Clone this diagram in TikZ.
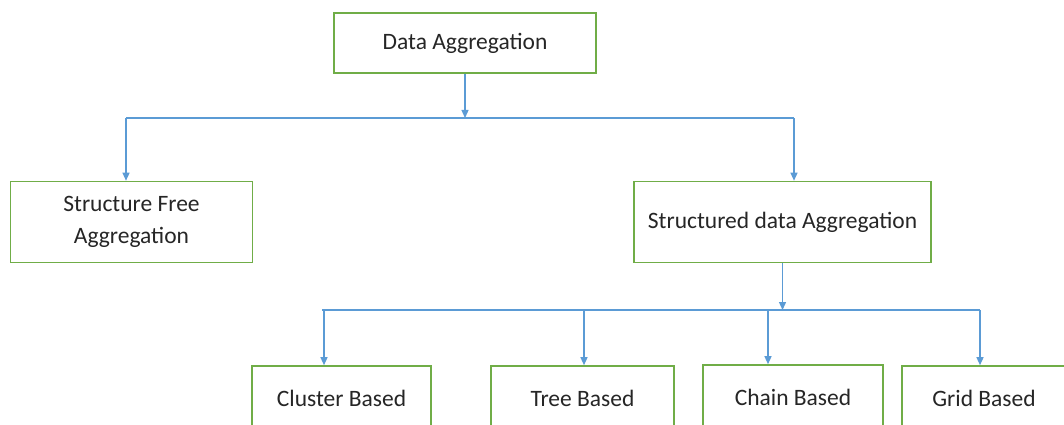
\documentclass[tikz,border=0pt]{standalone}
\usepackage{fontspec}
\setmainfont{Carlito}
\usetikzlibrary{arrows.meta,positioning}

\definecolor{boxgreen}{RGB}{112,173,71}
\definecolor{linkblue}{RGB}{91,155,213}

\begin{document}
\begin{tikzpicture}
    [x=1pt,y=-1pt,
     box/.style={draw=boxgreen,line width=1.6pt,fill=white,align=center,
       inner sep=0pt,text=black!85,font=\fontsize{23.5}{32}\selectfont},
     bus/.style={draw=linkblue,line width=1.3pt},
     link/.style={bus,-{Triangle[length=8pt,width=7pt]}}]
    \useasboundingbox (0,0) rectangle (1064,425);
    \clip (0,0) rectangle (1064,425);

    \node at (465,43)    (agg)  [box,minimum width=262pt,minimum height=60pt] {Data Aggregation};
    \node at (131.5,222) (free) [box,minimum width=242pt,minimum height=81pt] {Structure Free\\Aggregation};
    \node at (782.5,222) (sda)  [box,minimum width=297pt,minimum height=81pt] {Structured data Aggregation};

    % lower row, cut at the bottom edge
    \node at (341.5,398) (cluster) [box,minimum width=179pt,minimum height=64pt] {Cluster Based};
    \node at (582.5,398) (tree)    [box,minimum width=183pt,minimum height=64pt] {Tree Based};
    \node at (793,397)   (chain)   [box,minimum width=180pt,minimum height=64pt] {Chain Based};
    \node at (984,398)   (grid)    [box,minimum width=164pt,minimum height=64pt] {Grid Based};

    % first level
    \coordinate (bus a) at (126,118);
    \coordinate (bus b) at (794,118);
    \draw[link] (agg.south) -- (agg.south |- bus a);
    \draw[bus] (bus a) -- (bus b);
    \draw[link] (bus a) -- (bus a |- free.north);
    \draw[link] (bus b) -- (bus b |- sda.north);

    % second level
    \coordinate (bus c) at (322,310);
    \coordinate (bus d) at (980,310);
    \draw[link] (sda.south) -- (sda.south |- bus c);
    \draw[bus] (bus c) -- (bus d);
    \foreach \n/\x in {cluster/324,tree/584,chain/768,grid/980} {
      \coordinate (drop \n) at (\x,310);
      \draw[link] (drop \n) -- (drop \n |- \n.north);
    }
\end{tikzpicture}
\end{document}
